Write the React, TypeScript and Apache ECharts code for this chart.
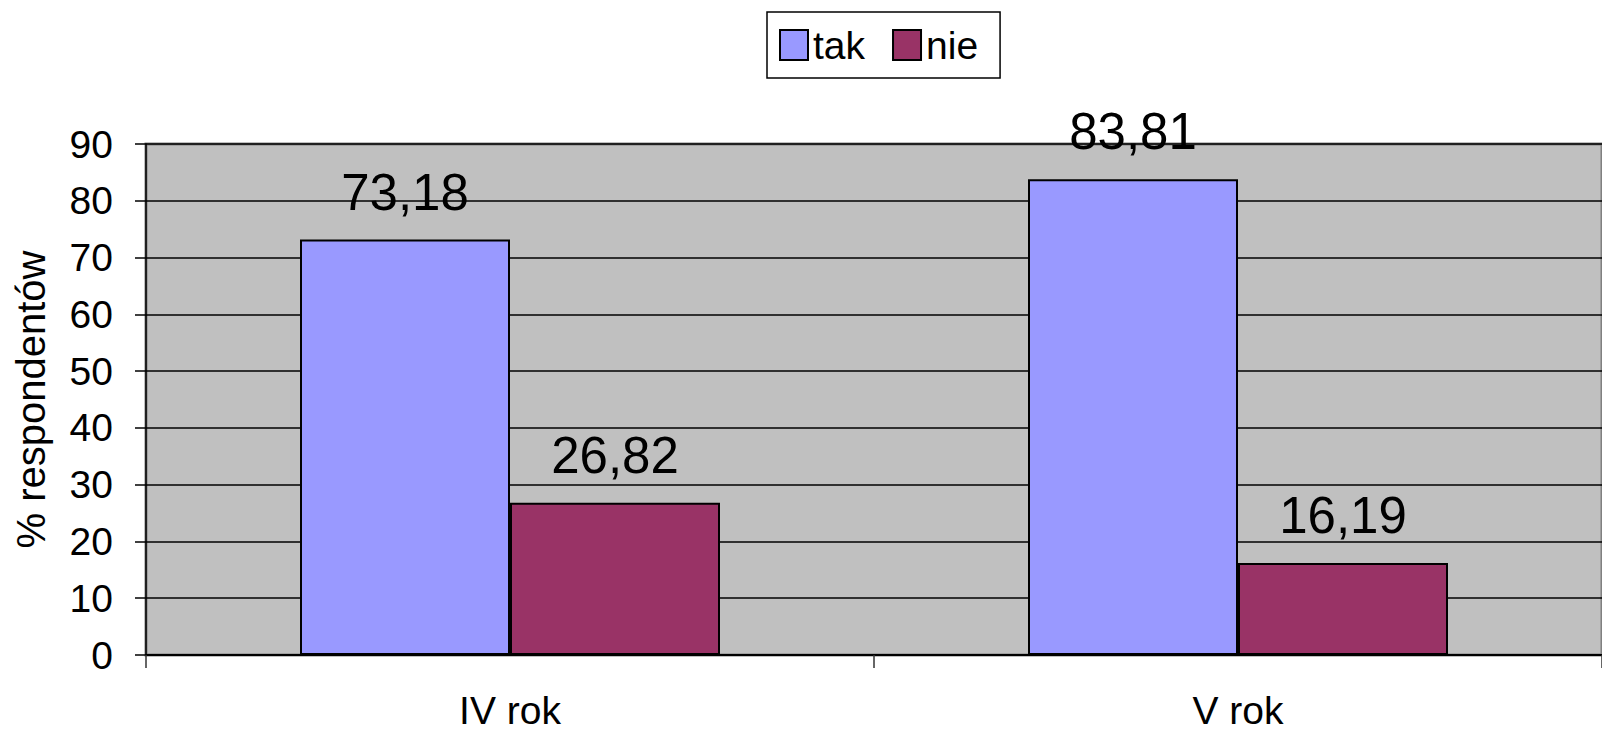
import React, { useEffect, useRef } from "react";
import * as echarts from "echarts";

const categories = ["IV rok", "V rok"];
const seriesNames = ["tak", "nie"];
const takValues = [73.18, 83.81];
const nieValues = [26.82, 16.19];
const yTicks = { min: 0, max: 90, interval: 10 };

const FONT = "'Liberation Sans', Arial, sans-serif";

export default function App() {
  const ref = useRef<HTMLDivElement>(null);
  useEffect(() => {
    if (!ref.current) return;
    const chart = echarts.init(ref.current, undefined, { renderer: "svg" });
    const label = {
      show: true,
      position: "top" as const,
      distance: 22,
      fontSize: 51,
      fontFamily: FONT,
      color: "#000",
      formatter: (p: any) => String(p.value).replace(".", ","),
    };
    chart.setOption({
      animation: false,
      textStyle: { fontFamily: FONT },
      legend: {
        left: 767,
        top: 12,
        orient: "horizontal",
        icon: "rect",
        itemWidth: 28,
        itemHeight: 30,
        itemGap: 27,
        padding: [11, 22, 11, 12],
        borderColor: "#000",
        borderWidth: 1.5,
        backgroundColor: "#fff",
        textStyle: { fontSize: 39, fontFamily: FONT, color: "#000", lineHeight: 44 },
        data: seriesNames,
      },
      grid: {
        show: true,
        left: 146,
        top: 144,
        right: -14,
        bottom: 77,
        backgroundColor: "#C0C0C0",
        borderColor: "#808080",
        borderWidth: 3,
        containLabel: false,
      },
      xAxis: {
        type: "category",
        data: categories,
        axisLine: { show: true, lineStyle: { color: "#000", width: 2 } },
        axisTick: { show: true, length: 13, lineStyle: { color: "#333", width: 1.5 } },
        axisLabel: { fontSize: 39, fontFamily: FONT, color: "#000", margin: 37, lineHeight: 36 },
        splitLine: { show: false },
      },
      yAxis: {
        type: "value",
        min: yTicks.min,
        max: yTicks.max,
        interval: yTicks.interval,
        name: "% respondentów",
        nameLocation: "middle",
        nameRotate: 90,
        nameGap: 95,
        nameTextStyle: { fontSize: 40, fontFamily: FONT, color: "#000" },
        axisLine: { show: true, lineStyle: { color: "#000", width: 1.5 } },
        axisTick: { show: true, length: 11, lineStyle: { color: "#000", width: 1.5 } },
        axisLabel: { fontSize: 39, fontFamily: FONT, color: "#000", margin: 33 },
        splitLine: { show: true, lineStyle: { color: "#000", width: 1.5 } },
      },
      series: [
        {
          name: seriesNames[0],
          type: "bar",
          data: takValues,
          barWidth: 210,
          barGap: "0%",
          itemStyle: { color: "#9999FF", borderColor: "#000", borderWidth: 2 },
          label,
        },
        {
          name: seriesNames[1],
          type: "bar",
          data: nieValues,
          barWidth: 210,
          barGap: "0%",
          itemStyle: { color: "#993366", borderColor: "#000", borderWidth: 2 },
          label,
        },
      ],
    });
    return () => chart.dispose();
  }, []);
  return (
    <div
      ref={ref}
      style={{ position: "absolute", left: 0, top: 0, width: 1602, height: 732, background: "#fff" }}
    />
  );
}
